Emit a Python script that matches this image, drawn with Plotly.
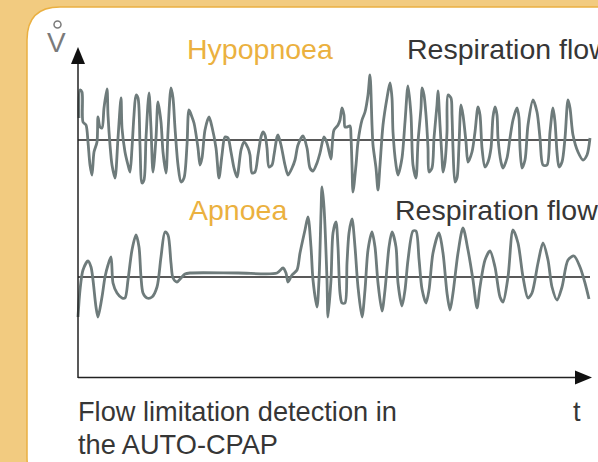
import plotly.graph_objects as go

W, H = 598, 462

# ---- data: respiration flow (arbitrary units) vs time (arbitrary units) ----
hyp_t = [1, 2, 4, 5, 8, 10, 12, 14, 16, 19, 20, 22, 24, 26, 29, 30, 32, 34, 37, 40,
         43, 44, 47, 50, 52, 54, 56, 58, 60, 62, 64, 66, 68, 71, 73, 75, 78, 80, 83, 85,
         88, 90, 93, 95, 97, 100, 103, 106, 109, 111, 114, 116, 120, 122, 124, 127, 131, 134, 138, 141,
         144, 147, 150, 153, 156, 159, 163, 166, 170, 172, 174, 177, 180, 183, 185, 187, 189, 191, 194, 196,
         199, 200, 203, 207, 210, 214, 217, 220, 225, 229, 232, 235, 239, 242, 246, 249, 253, 254, 256, 260,
         262, 264, 266, 267, 269, 272, 273, 274, 275, 278, 280, 284, 287, 290, 292, 294, 295, 298, 300, 302,
         305, 309, 312, 314, 315, 318, 320, 324, 327, 330, 333, 335, 338, 340, 343, 344, 346, 348, 350, 351,
         354, 356, 359, 360, 362, 364, 365, 367, 369, 370, 373, 374, 375, 377, 379, 381, 383, 385, 388, 390,
         394, 397, 400, 402, 404, 407, 410, 413, 415, 417, 419, 420, 423, 425, 429, 432, 435, 439, 441, 442,
         444, 447, 450, 455, 459, 462, 465, 469, 472, 475, 477, 479, 481, 484, 487, 490, 492, 495, 500, 505,
         509, 512]
hyp_flow = [2.2, 5.0, 4.8, 1.8, 1.5, -0.2, -2.5, -3.5, -1.2, -0.2, 2.3, 1.3, 1.2, 3.2, 5.1, 2.5, -0.5, -2.5, -3.8, 0.2,
            4.2, 1.2, -1.2, -2.5, -3.2, -0.8, 2.5, 4.5, 4.2, -0.5, -4.3, -4.0, 0.2, 4.7, 1.2, -3.2, 0.2, 3.8, 1.8, -1.2,
            -3.3, 0.8, 5.2, 4.2, 1.2, -2.5, -4.2, -3.8, -0.5, 3.0, 2.3, 1.7, -0.8, -2.5, -1.8, 1.0, 2.3, 1.3, -0.8, -3.8,
            -1.5, 0.3, 0.2, -1.2, -2.8, -3.7, -1.0, -0.2, -0.8, -1.5, -3.3, -3.2, -1.5, 0.3, 0.8, 0.5, -0.8, -2.7, -2.5, -1.5,
            0.3, 0.5, -0.5, -2.5, -3.5, -2.8, -2.0, -0.5, 0.4, -0.8, -2.8, -3.1, -2.3, -1.3, 0.3, -0.3, -1.9, -0.8, 1.0, 1.5,
            2.0, 3.2, 2.5, 1.3, 1.3, 1.4, 0.3, -2.5, -5.2, -2.5, -0.2, 2.0, 2.8, 4.5, 6.5, 1.5, -0.5, -2.8, -5.0, -2.5,
            1.5, 4.2, 5.7, 4.2, 0.8, -2.5, -3.5, -1.8, 1.8, 5.4, 2.5, -2.5, -3.8, -0.2, 3.2, 5.2, 4.5, 2.5, -0.8, -3.2,
            -2.8, 0.2, 3.5, 4.9, 1.5, -1.8, -3.2, -2.2, 0.8, 4.5, 4.2, 2.5, -0.8, -4.2, -3.8, -0.5, 3.5, 2.5, -0.2, -2.2,
            -1.2, 0.8, 3.3, 2.5, -0.8, -2.7, -2.2, -0.8, 2.3, 3.3, 2.5, 0.2, -2.2, -2.8, -1.8, 0.2, 2.0, 3.2, 2.2, -0.8,
            -2.8, -2.0, 1.5, 4.0, 2.8, 0.2, -2.5, -2.5, 0.8, 3.2, 1.8, -1.2, -2.7, -2.2, 0.2, 4.0, 3.2, 0.5, -1.2, -2.0,
            -1.5, 0.2]

apn_t = [0, 2, 5, 10, 13, 15, 18, 20, 24, 27, 30, 33, 35, 39, 44, 47, 50, 54, 58, 61,
         63, 65, 69, 74, 79, 83, 87, 90, 93, 95, 99, 103, 107, 112, 160, 199, 205, 208, 210, 214,
         219, 222, 227, 230, 233, 235, 239, 241, 243, 244, 246, 249, 250, 253, 255, 258, 260, 262, 264, 267,
         269, 271, 274, 277, 280, 284, 287, 290, 294, 297, 300, 304, 307, 311, 314, 318, 320, 324, 327, 330,
         335, 338, 341, 344, 348, 351, 355, 361, 365, 369, 372, 375, 380, 385, 390, 395, 399, 402, 407, 412,
         417, 422, 425, 430, 435, 440, 445, 450, 454, 460, 465, 470, 474, 479, 484, 490, 496, 502, 507, 511]
apn_flow = [-4.0, -1.3, 0.7, 1.6, 1.0, -0.3, -3.0, -4.0, -2.0, 0.0, 1.2, 2.0, -0.6, -1.6, -2.1, -2.1, -0.3, 2.7, 4.2, 3.0,
            0.0, -1.6, -2.1, -2.0, -1.0, 2.0, 4.5, 4.2, 1.4, -0.1, -0.5, -0.1, 0.3, 0.4, 0.4, 0.4, 0.9, 0.4, -0.5, 0.2,
            0.7, 2.4, 4.7, 6.0, 3.0, -0.3, -3.0, -0.3, 6.4, 9.0, 7.0, -0.3, -4.0, -0.3, 4.4, 5.5, 3.0, -1.6, -2.6, -2.6,
            1.4, 4.4, 5.8, 3.0, -1.0, -4.0, -1.3, 2.7, 4.5, 3.0, -0.6, -3.4, -1.3, 3.0, 4.5, 3.0, -0.6, -2.9, -1.3, 1.7,
            4.6, 4.6, 1.8, -1.2, -2.6, -1.3, 2.4, 4.4, 2.4, -1.6, -3.3, -1.6, 2.4, 4.9, 2.7, -0.3, -3.1, -1.0, 1.7, 2.6,
            1.0, -2.0, -2.5, 0.0, 4.7, 3.4, 0.0, -2.1, -1.6, 1.4, 3.4, 1.7, -1.0, -2.3, -1.0, 1.7, 2.1, 1.0, -0.6, -2.2]

labels = {
    "vdot": "V",
    "hyp": "Hypopnoea",
    "apn": "Apnoea",
    "flow": "Respiration flow",
    "t": "t",
    "caption1": "Flow limitation detection in",
    "caption2": "the AUTO-CPAP",
}

# ---- styles ----
BG = "#F2CB80"
BORDER = "#EAB041"
WAVE = "#6E7B7B"
ORANGE = "#EBB13F"
DARK = "#363636"
FONT = "Liberation Sans"


def px(x):
    return x / W


def py(y):
    return 1 - y / H


fig = go.Figure()
fig.add_trace(go.Scatter(x=hyp_t, y=hyp_flow, mode="lines", yaxis="y",
                         line=dict(color=WAVE, width=2.8, shape="spline", smoothing=0.8),
                         hoverinfo="skip"))
fig.add_trace(go.Scatter(x=apn_t, y=apn_flow, mode="lines", yaxis="y2",
                         line=dict(color=WAVE, width=2.8, shape="spline", smoothing=0.8),
                         hoverinfo="skip"))

shapes = []
# white rounded panel
r = 33
x0, y0, y1 = 27, 7, 490
path = (f"M {px(x0)},{py(y1 - r)} L {px(x0)},{py(y0 + r)} "
        f"Q {px(x0)},{py(y0)} {px(x0 + r)},{py(y0)} L {px(620)},{py(y0)} "
        f"L {px(620)},{py(y1)} L {px(x0 + r)},{py(y1)} Q {px(x0)},{py(y1)} {px(x0)},{py(y1 - r)} Z")
shapes.append(dict(type="path", path=path, xref="paper", yref="paper",
                   fillcolor="white", line=dict(color=BORDER, width=1.5), layer="below"))
# baselines
shapes.append(dict(type="line", xref="x", yref="y", x0=0, x1=512, y0=0, y1=0,
                   line=dict(color="#222", width=1.4), layer="below"))
shapes.append(dict(type="line", xref="x", yref="y2", x0=0, x1=512, y0=0, y1=0,
                   line=dict(color="#222", width=1.4), layer="below"))
# axes
shapes.append(dict(type="line", xref="paper", yref="paper", x0=px(78), x1=px(78), y0=py(378), y1=py(62),
                   line=dict(color="#222", width=1.5)))
shapes.append(dict(type="line", xref="paper", yref="paper", x0=px(78), x1=px(578), y0=py(377.5), y1=py(377.5),
                   line=dict(color="#222", width=1.5)))
shapes.append(dict(type="path", xref="paper", yref="paper",
                   path=f"M {px(71)},{py(64)} L {px(85)},{py(64)} L {px(78)},{py(47)} Z",
                   fillcolor="#111", line=dict(width=0)))
shapes.append(dict(type="path", xref="paper", yref="paper",
                   path=f"M {px(575)},{py(370.5)} L {px(575)},{py(384.5)} L {px(592)},{py(377.5)} Z",
                   fillcolor="#111", line=dict(width=0)))
# ring above V
shapes.append(dict(type="circle", xref="paper", yref="paper",
                   x0=px(54), x1=px(61), y0=py(28), y1=py(21),
                   line=dict(color="#7A7A7A", width=1.5)))

ann = []


def add_text(text, x, y, color, size=28.5):
    ann.append(dict(text=text, x=px(x), y=py(y), xref="paper", yref="paper",
                    xanchor="left", yanchor="middle", showarrow=False,
                    font=dict(family=FONT, size=size, color=color)))


add_text(labels["vdot"], 45, 42, "#7A7A7A", 28)
add_text(labels["hyp"], 185, 49, ORANGE)
add_text(labels["flow"], 405, 49, DARK)
add_text(labels["apn"], 187, 210, ORANGE)
add_text(labels["flow"], 393, 210, DARK)
add_text(labels["caption1"], 76, 411, DARK, 27.2)
add_text(labels["caption2"], 76, 444, DARK, 27.2)
add_text(labels["t"], 571, 411, DARK, 27.2)

fig.update_layout(
    width=W, height=H,
    margin=dict(l=0, r=0, t=0, b=0),
    paper_bgcolor=BG, plot_bgcolor="rgba(0,0,0,0)",
    showlegend=False,
    xaxis=dict(range=[-78, 520], domain=[0, 1], visible=False, fixedrange=True),
    yaxis=dict(range=[-32.2, 14.0], domain=[0, 1], visible=False, fixedrange=True),
    yaxis2=dict(range=[-18.5, 27.7], domain=[0, 1], overlaying="y", visible=False, fixedrange=True),
    shapes=shapes,
    annotations=ann,
)

fig.write_html("out.html", config={"displayModeBar": False},
               post_script="document.body.style.margin='0';document.body.style.overflow='hidden';"
                           "document.body.style.background='" + BG + "';")
